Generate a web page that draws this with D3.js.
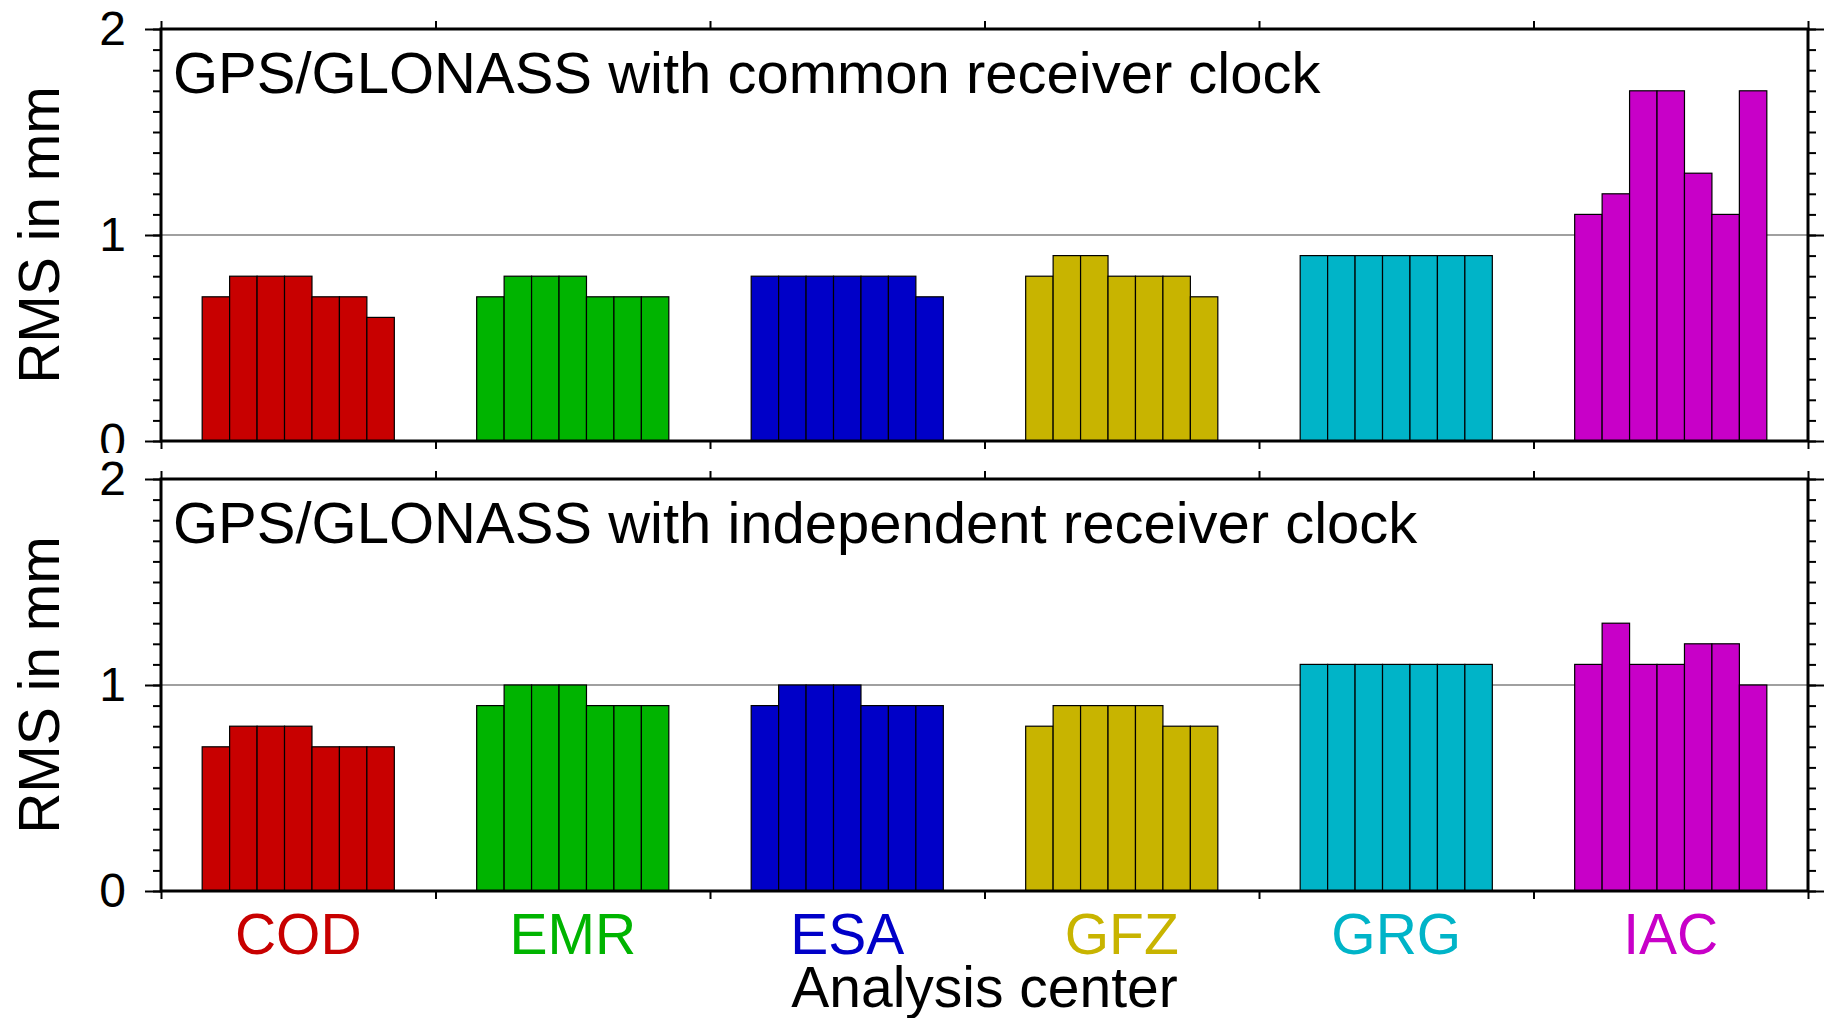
<!DOCTYPE html>
<html>
<head>
<meta charset="utf-8">
<script src="https://cdn.jsdelivr.net/npm/d3@7"></script>
<style>
  body { margin: 0; background: #fff; }
  svg { display: block; font-family: "Liberation Sans", Arial, sans-serif; }
</style>
</head>
<body>
<div id="chart"></div>
<script>
const centers = ["COD", "EMR", "ESA", "GFZ", "GRG", "IAC"];
const centerColors = ["#c80000", "#00b400", "#0000c8", "#c8b400", "#00b4c8", "#c800c8"];

// 7 solutions per analysis center, RMS in mm
const commonClock = [
  [0.7, 0.8, 0.8, 0.8, 0.7, 0.7, 0.6],
  [0.7, 0.8, 0.8, 0.8, 0.7, 0.7, 0.7],
  [0.8, 0.8, 0.8, 0.8, 0.8, 0.8, 0.7],
  [0.8, 0.9, 0.9, 0.8, 0.8, 0.8, 0.7],
  [0.9, 0.9, 0.9, 0.9, 0.9, 0.9, 0.9],
  [1.1, 1.2, 1.7, 1.7, 1.3, 1.1, 1.7]
];
const independentClock = [
  [0.7, 0.8, 0.8, 0.8, 0.7, 0.7, 0.7],
  [0.9, 1.0, 1.0, 1.0, 0.9, 0.9, 0.9],
  [0.9, 1.0, 1.0, 1.0, 0.9, 0.9, 0.9],
  [0.8, 0.9, 0.9, 0.9, 0.9, 0.8, 0.8],
  [1.1, 1.1, 1.1, 1.1, 1.1, 1.1, 1.1],
  [1.1, 1.3, 1.1, 1.1, 1.2, 1.2, 1.0]
];
const panelTitles = [
  "GPS/GLONASS with common receiver clock",
  "GPS/GLONASS with independent receiver clock"
];
const yMajorTicks = [0, 1, 2];
const yLabel = "RMS in mm";
const xLabel = "Analysis center";

const WIDTH = 1828;
const HEIGHT = 1018;
const PLOT_LEFT = 161;
const PLOT_RIGHT = 1808;
const PANEL_HEIGHT = 412;
const PANEL_TOPS = [29, 479];

const svg = d3.select("#chart").append("svg")
  .attr("width", WIDTH)
  .attr("height", HEIGHT);

svg.append("rect").attr("width", WIDTH).attr("height", HEIGHT).attr("fill", "#fff");

const x = d3.scaleBand()
  .domain(centers)
  .range([PLOT_LEFT, PLOT_RIGHT])
  .padding(0);

const bw = x.bandwidth();
const xSub = d3.scaleBand()
  .domain(d3.range(7))
  .range([bw * 0.15, bw * 0.85])
  .padding(0);

const boundaries = d3.range(centers.length + 1).map(i => PLOT_LEFT + i * bw);

function drawPanel(panelIndex, data) {
  const top = PANEL_TOPS[panelIndex];
  const bottom = top + PANEL_HEIGHT;

  const y = d3.scaleLinear().domain([0, 2]).range([bottom, top]);

  const g = svg.append("g");

  if (panelIndex > 0) {
    // white backing of the lower panel hides the clipped "0" of the upper one
    g.append("rect")
      .attr("x", 0).attr("y", top - 26)
      .attr("width", WIDTH).attr("height", HEIGHT - top + 26)
      .attr("fill", "#fff");
  }

  // reference line at 1 mm
  g.append("line")
    .attr("x1", PLOT_LEFT).attr("x2", PLOT_RIGHT)
    .attr("y1", y(1)).attr("y2", y(1))
    .attr("stroke", "#808080")
    .attr("stroke-width", 1.5);

  // bars
  data.forEach((vals, ci) => {
    g.append("g")
      .selectAll("rect")
      .data(vals)
      .enter()
      .append("rect")
      .attr("x", (d, i) => x(centers[ci]) + xSub(i))
      .attr("y", d => y(d))
      .attr("width", xSub.bandwidth())
      .attr("height", d => y(0) - y(d))
      .attr("fill", centerColors[ci])
      .attr("stroke", "#000")
      .attr("stroke-width", 1.2);
  });

  // left axis: minor + major ticks outside
  const yMinor = d3.range(0, 2.0001, 0.1).map(v => +v.toFixed(1));
  g.append("g")
    .attr("transform", `translate(${PLOT_LEFT},0)`)
    .call(d3.axisLeft(y).tickValues(yMinor).tickSize(8).tickFormat(""))
    .call(a => a.select(".domain").remove())
    .selectAll("line").attr("stroke-width", 2);

  g.append("g")
    .attr("transform", `translate(${PLOT_LEFT},0)`)
    .call(d3.axisLeft(y).tickValues(yMajorTicks).tickSize(16).tickPadding(19).tickFormat(d3.format("d")))
    .call(a => a.select(".domain").remove())
    .call(a => a.selectAll("line").attr("stroke-width", 2))
    .call(a => a.selectAll("text")
      .attr("font-size", 48)
      .attr("font-family", "Liberation Sans, Arial, sans-serif")
      .attr("fill", "#000"));

  // right axis
  g.append("g")
    .attr("transform", `translate(${PLOT_RIGHT},0)`)
    .call(d3.axisRight(y).tickValues(yMinor).tickSize(8).tickFormat(""))
    .call(a => a.select(".domain").remove())
    .selectAll("line").attr("stroke-width", 2);

  g.append("g")
    .attr("transform", `translate(${PLOT_RIGHT},0)`)
    .call(d3.axisRight(y).tickValues(yMajorTicks).tickSize(16).tickFormat(""))
    .call(a => a.select(".domain").remove())
    .selectAll("line").attr("stroke-width", 2);

  // top and bottom boundary ticks
  const xb = d3.scaleLinear().domain([PLOT_LEFT, PLOT_RIGHT]).range([PLOT_LEFT, PLOT_RIGHT]);
  g.append("g")
    .attr("transform", `translate(0,${top})`)
    .call(d3.axisTop(xb).tickValues(boundaries).tickSize(8).tickFormat(""))
    .call(a => a.select(".domain").remove())
    .selectAll("line").attr("stroke-width", 2);

  g.append("g")
    .attr("transform", `translate(0,${bottom})`)
    .call(d3.axisBottom(xb).tickValues(boundaries).tickSize(8).tickFormat(""))
    .call(a => a.select(".domain").remove())
    .selectAll("line").attr("stroke-width", 2);

  // frame
  g.append("rect")
    .attr("x", PLOT_LEFT).attr("y", top)
    .attr("width", PLOT_RIGHT - PLOT_LEFT).attr("height", PANEL_HEIGHT)
    .attr("fill", "none")
    .attr("stroke", "#000")
    .attr("stroke-width", 3);

  // panel title
  g.append("text")
    .attr("x", 173)
    .attr("y", top + 64)
    .attr("font-size", 58)
    .attr("fill", "#000")
    .text(panelTitles[panelIndex]);

  // y axis label
  g.append("text")
    .attr("transform", `translate(59,${(top + bottom) / 2}) rotate(-90)`)
    .attr("text-anchor", "middle")
    .attr("font-size", 57)
    .attr("fill", "#000")
    .text(yLabel);
}

drawPanel(0, commonClock);
drawPanel(1, independentClock);

// category labels
svg.append("g")
  .selectAll("text")
  .data(centers)
  .enter()
  .append("text")
  .attr("x", d => x(d) + bw / 2)
  .attr("y", 954)
  .attr("text-anchor", "middle")
  .attr("font-size", 57)
  .attr("fill", (d, i) => centerColors[i])
  .text(d => d);

svg.append("text")
  .attr("x", (PLOT_LEFT + PLOT_RIGHT) / 2)
  .attr("y", 1007)
  .attr("text-anchor", "middle")
  .attr("font-size", 57)
  .attr("fill", "#000")
  .text(xLabel);
</script>
</body>
</html>
